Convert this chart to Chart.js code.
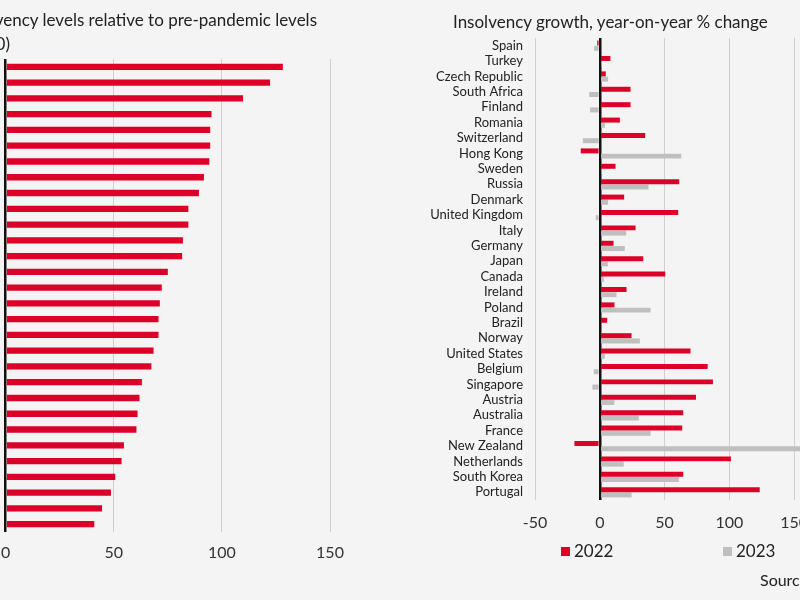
<!DOCTYPE html>
<html>
<head>
<meta charset="utf-8">
<script src="https://cdn.jsdelivr.net/npm/chart.js@4.4.1/dist/chart.umd.min.js"></script>
<style>
  html, body { margin:0; padding:0; width:800px; height:600px; overflow:hidden; background:#f4f4f4; font-family: Lato, "Liberation Sans", sans-serif; color:#222; }
  .abs { position:absolute; white-space:nowrap; }
  #leftWrap { position:absolute; left:-10px; top:0; width:440px; height:600px; }
  #rightWrap { position:absolute; left:420px; top:0; width:460px; height:600px; }
  .t { font-size:17px; color:#222; }
  .lg { font-size:17px; color:#222; }
  .sw { display:inline-block; width:9px; height:9px; margin-right:4px; vertical-align:1px; }
</style>
</head>
<body>
<div id="leftWrap"><canvas id="left" width="440" height="600"></canvas></div>
<div id="rightWrap"><canvas id="right" width="460" height="600"></canvas></div>

<div class="abs t" style="right:483px; top:9px;">Insolvency levels relative to pre-pandemic levels</div>
<div class="abs t" style="right:790px; top:33px;">(2019=100)</div>
<div class="abs t" style="left:453px; top:11px;">Insolvency growth, year-on-year % change</div>
<div class="abs lg" style="left:561px; top:540px;"><span class="sw" style="background:#dc0028"></span>2022</div>
<div class="abs lg" style="left:723px; top:540px;"><span class="sw" style="background:#bfbfbf"></span>2023</div>
<div class="abs t" style="left:760px; top:570px; font-size:16px;">Source:</div>

<script>
// ---- Left panel: insolvency levels (category labels are cropped out of the reference) ----
const levelRanks = ['1','2','3','4','5','6','7','8','9','10','11','12','13','14','15','16','17','18','19','20','21','22','23','24','25','26','27','28','29','30'];
const levelValues = [128.2,122.3,109.8,95.2,94.6,94.6,94.2,91.7,89.4,84.5,84.5,82.0,81.6,75.0,72.2,71.3,70.7,70.7,68.4,67.4,63.0,61.9,61.0,60.5,54.7,53.6,50.7,48.7,44.6,41.0];
const levelTicks = [0,50,100,150];

// ---- Right panel: insolvency growth, y/y % change ----
const countries = ['Spain','Turkey','Czech Republic','South Africa','Finland','Romania','Switzerland','Hong Kong','Sweden','Russia','Denmark','United Kingdom','Italy','Germany','Japan','Canada','Ireland','Poland','Brazil','Norway','United States','Belgium','Singapore','Austria','Australia','France','New Zealand','Netherlands','South Korea','Portugal'];
const growth2022 = [-2,8.2,4.6,23.7,23.7,15.5,35,-14.7,12.1,61.3,18.8,60.5,27.6,10.6,33.5,50.5,20.6,11.3,5.7,24.5,70,83.2,87.3,74.2,64.4,63.6,-19.6,101.2,64.4,123.4];
const growth2023 = [-4.4,1.3,6.4,-8.2,-7.5,3.9,-13.1,62.9,1.3,37.6,6.4,-3.1,20.4,19.3,6.2,3.1,12.9,39.2,0,30.9,3.9,-4.6,-5.7,11.3,30.1,39.2,165,18.5,61,24.5];
const growthTicks = [-50,0,50,100,150,200];
const seriesNames = ['2022','2023'];

const RED = '#dc0028';
const GREY = '#bfbfbf';
const TICKFONT = { family: 'Lato, "Liberation Sans", sans-serif', size: 16 };

new Chart(document.getElementById('left'), {
  type: 'bar',
  data: { labels: levelRanks, datasets: [{ label: 'Level', data: levelValues, backgroundColor: RED, barPercentage: 0.4, categoryPercentage: 1 }] },
  options: {
    indexAxis: 'y', responsive: false, animation: false,
    layout: { padding: { left: 4, right: 100, top: 59, bottom: 28 } },
    plugins: { legend: { display: false }, tooltip: { enabled: false } },
    scales: {
      x: {
        min: 0, max: 150,
        afterBuildTicks: s => { s.ticks = levelTicks.map(v => ({ value: v })); },
        afterFit: s => { s.height = 40; },
        grid: { drawTicks: false, color: c => c.tick && c.tick.value === 0 ? '#111' : '#cfcfcf', lineWidth: c => c.tick && c.tick.value === 0 ? 2.5 : 1 },
        border: { display: false },
        ticks: { padding: 11, color: '#333', font: TICKFONT }
      },
      y: { ticks: { display: false }, grid: { display: false, drawTicks: false }, border: { display: false }, afterFit: s => { s.width = 0; } }
    }
  }
});

new Chart(document.getElementById('right'), {
  type: 'bar',
  data: {
    labels: countries,
    datasets: [
      { label: seriesNames[0], data: growth2022, backgroundColor: RED, barPercentage: 0.95, categoryPercentage: 0.68 },
      { label: seriesNames[1], data: growth2023, backgroundColor: GREY, barPercentage: 0.95, categoryPercentage: 0.68 }
    ]
  },
  options: {
    indexAxis: 'y', responsive: false, animation: false,
    layout: { padding: { left: 0, right: 21, top: 38, bottom: 60 } },
    plugins: { legend: { display: false }, tooltip: { enabled: false } },
    scales: {
      x: {
        min: -50, max: 200,
        afterBuildTicks: s => { s.ticks = growthTicks.map(v => ({ value: v })); },
        afterFit: s => { s.height = 40; },
        grid: { drawTicks: false, color: c => c.tick && c.tick.value === 0 ? '#111' : '#cfcfcf', lineWidth: c => c.tick && c.tick.value === 0 ? 2.5 : 1 },
        border: { display: false },
        ticks: { padding: 13, color: '#333', font: TICKFONT, callback: v => (v === 200 ? '' : String(v)) }
      },
      y: {
        afterFit: s => { s.width = 115; },
        grid: { display: false, drawTicks: false }, border: { display: false },
        ticks: { padding: 12, color: '#222', font: { family: 'Lato, "Liberation Sans", sans-serif', size: 13 }, autoSkip: false }
      }
    }
  }
});
</script>
</body>
</html>
